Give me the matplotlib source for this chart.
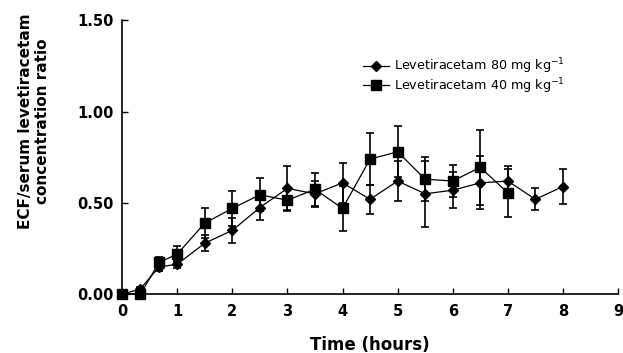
import numpy as np
import matplotlib
matplotlib.use("Agg")
import matplotlib.pyplot as plt
from matplotlib.ticker import FormatStrFormatter

plt.rcParams['font.family'] = ['DejaVu Sans']

# Levetiracetam 80 mg/kg (diamonds)
t80 = [0, 0.33, 0.67, 1, 1.5, 2, 2.5, 3, 3.5, 4, 4.5, 5, 5.5, 6, 6.5, 7, 7.5, 8]
r80 = [0.0, 0.03, 0.15, 0.165, 0.28, 0.35, 0.475, 0.58, 0.55, 0.61, 0.52, 0.62, 0.55, 0.57, 0.61, 0.62, 0.52, 0.59]
e80 = [0.0, 0.01, 0.02, 0.02, 0.045, 0.07, 0.07, 0.12, 0.07, 0.11, 0.08, 0.11, 0.18, 0.10, 0.145, 0.08, 0.06, 0.095]

# Levetiracetam 40 mg/kg (squares)
t40 = [0, 0.33, 0.67, 1, 1.5, 2, 2.5, 3, 3.5, 4, 4.5, 5, 5.5, 6, 6.5, 7]
r40 = [0.0, 0.0, 0.175, 0.22, 0.39, 0.47, 0.545, 0.515, 0.575, 0.47, 0.74, 0.78, 0.63, 0.62, 0.695, 0.555]
e40 = [0.0, 0.0, 0.03, 0.045, 0.08, 0.095, 0.09, 0.06, 0.09, 0.125, 0.14, 0.14, 0.12, 0.09, 0.205, 0.13]

fig = plt.figure(figsize=(6.23, 3.53), dpi=100)
ax = fig.add_axes([0.196, 0.166, 0.796, 0.777])

ax.errorbar(t80, r80, yerr=e80, color='black', marker='D', markersize=5.5,
            linewidth=0.9, elinewidth=1.2, capsize=3, capthick=1.2,
            label='Levetiracetam 80 mg kg$^{-1}$', clip_on=False, zorder=3)
ax.errorbar(t40, r40, yerr=e40, color='black', marker='s', markersize=7,
            linewidth=0.9, elinewidth=1.2, capsize=3, capthick=1.2,
            label='Levetiracetam 40 mg kg$^{-1}$', clip_on=False, zorder=3)

ax.set_xlim(0, 9)
ax.set_ylim(0, 1.5)
ax.set_xticks(range(0, 10))
ax.set_yticks([0, 0.5, 1.0, 1.5])
ax.yaxis.set_major_formatter(FormatStrFormatter('%.2f'))
ax.spines['top'].set_visible(False)
ax.spines['right'].set_visible(False)
ax.spines['left'].set_linewidth(1.2)
ax.spines['bottom'].set_linewidth(1.2)
ax.tick_params(direction='in', length=4, width=1, labelsize=10.5)
ax.tick_params(axis='x', pad=7)
ax.tick_params(axis='y', pad=6)
for lab in ax.get_xticklabels() + ax.get_yticklabels():
    lab.set_fontweight('bold')

ax.set_xlabel('Time (hours)', fontsize=12, fontweight='bold', labelpad=12)
ax.set_ylabel('ECF/serum levetiracetam\nconcentration ratio', fontsize=11,
              fontweight='bold')
ax.yaxis.set_label_coords(-0.145, 0.63)

handles, labels = ax.get_legend_handles_labels()
handles = [h[0] for h in handles]
ax.legend(handles, labels, loc='upper left', bbox_to_anchor=(0.463, 0.91),
          frameon=False, fontsize=9.2, handlelength=2.0, handletextpad=0.4,
          labelspacing=0.0)

fig.savefig('out.png', dpi=100)
